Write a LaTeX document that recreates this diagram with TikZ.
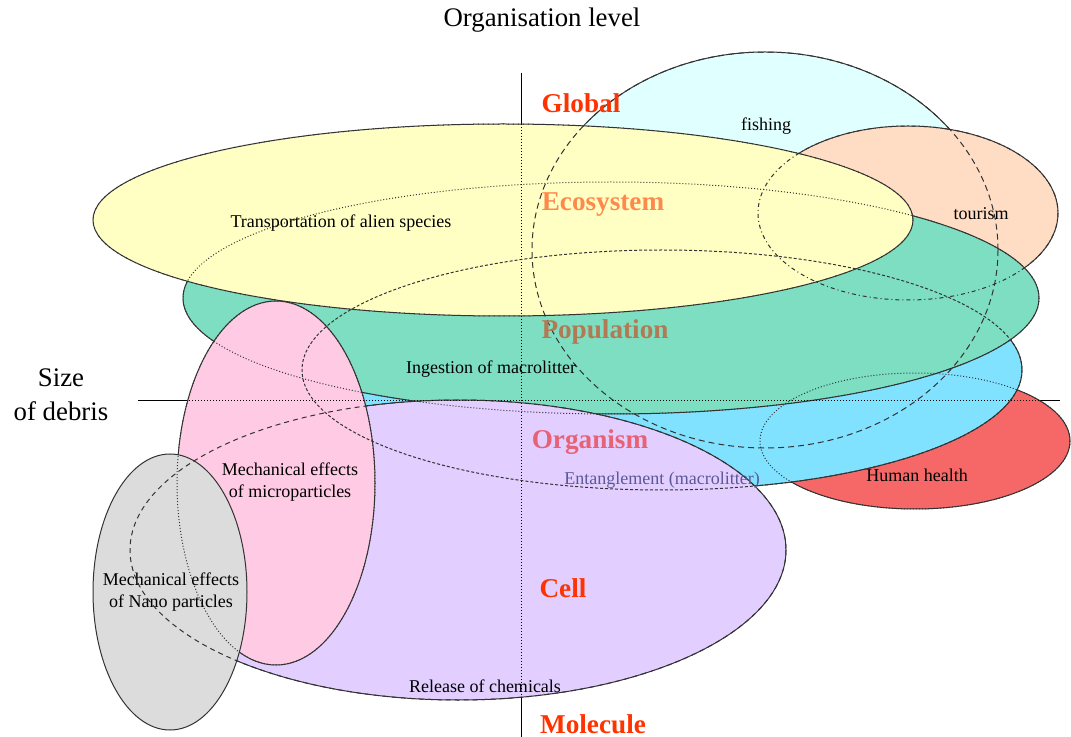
\documentclass[tikz,border=0pt]{standalone}
\usepackage{fontspec}
\setmainfont{Liberation Serif}
\usepackage{tikz}
\usepackage{color}
\definecolor{skyfish}{RGB}{224, 255, 255}
\definecolor{peach}{RGB}{255, 221, 196}
\definecolor{healthred}{RGB}{246, 104, 104}
\definecolor{tanglecyan}{RGB}{128, 226, 255}
\definecolor{seagreen}{RGB}{126, 222, 193}
\definecolor{palelemon}{RGB}{255, 255, 196}
\definecolor{lavender}{RGB}{226, 206, 255}
\definecolor{candypink}{RGB}{255, 202, 228}
\definecolor{ashgray}{RGB}{220, 220, 220}
\definecolor{levelred}{RGB}{255, 51, 0}

\begin{document}
\begin{tikzpicture}[x=0.5pt, y=-0.5pt,
        level/.style={font=\fontsize{13.6}{16}\selectfont\bfseries, text=levelred, inner sep=0pt},
        effect/.style={font=\fontsize{9}{11}\selectfont, align=center, inner sep=0pt},
        axislabel/.style={font=\fontsize{13.4}{17}\selectfont, align=center, inner sep=0pt},
        blob/.style={draw=black!80, line width=0.5pt}]
            \useasboundingbox (0,0) rectangle (1071,737);
            % Axes, solid where no effect covers them
            \draw[line width=0.5pt]                                  (138,401) -- (1060,401);
            \draw[line width=0.5pt]                                  (521, 73) -- ( 521,737);
            % Effects, back to front
            \filldraw[blob, fill=skyfish]                            (765,250) ellipse (233 and 198);
            \filldraw[blob, fill=peach]                              (908,213) ellipse (150 and  87);
            \filldraw[blob, fill=healthred]                          (915,441) ellipse (155 and  68);
            \filldraw[blob, fill=tanglecyan]                         (662,370) ellipse (360 and 120);
            \filldraw[blob, fill=seagreen]                           (611,298) ellipse (428 and 116);
            \filldraw[blob, fill=palelemon]                          (503,220) ellipse (410 and  96);
            \filldraw[blob, fill=lavender]                           (458,550) ellipse (328 and 150);
            \filldraw[blob, fill=candypink]                          (276,483) ellipse ( 99 and 182);
            \filldraw[blob, fill=ashgray]                            (170,592) ellipse ( 77 and 138);
            % Axes again, dotted through the effects
            \draw[densely dotted, line width=0.5pt]                  (138,401) -- (1060,401);
            \draw[densely dotted, line width=0.5pt]                  (521, 73) -- ( 521,737);
            % Hidden outlines
            \draw[black!80, line width=0.5pt, dash pattern=on 3pt off 2pt]                  (765,250) ellipse (233 and 198);
            \draw[black!80, line width=0.5pt, dash pattern=on 2pt off 1.5pt on 0.5pt off 1.5pt] (908,213) ellipse (150 and  87);
            \draw[black!80, line width=0.5pt, densely dotted]                               (915,441) ellipse (155 and  68);
            \draw[black!80, line width=0.5pt, dash pattern=on 1.5pt off 1pt]                (662,370) ellipse (360 and 120);
            \draw[black!80, line width=0.5pt, densely dotted]                               (611,298) ellipse (428 and 116);
            \draw[black!80, line width=0.5pt, dotted]                                       (503,220) ellipse (410 and  96);
            \draw[black!80, line width=0.5pt, dash pattern=on 2.5pt off 2pt]                (458,550) ellipse (328 and 150);
            \draw[black!80, line width=0.5pt, densely dotted]                               (276,483) ellipse ( 99 and 182);
            % Axis labels
            \node[axislabel] (orglevel) at (542, 20) {Organisation level};
            \node[axislabel] (debris)   at ( 61,395) {Size\\of debris};
            % Organisation levels
            \node[level]                 (global)   at (581,103) {Global};
            \node[level, text=levelred!55!orange!70!white] (ecosystem) at (603,205) {Ecosystem};
            \node[level, text={rgb,255:red,178;green,122;blue,84}] (population) at (605,332) {Population};
            \node[level, text={rgb,255:red,232;green,98;blue,118}] (organism)   at (590,442) {Organism};
            \node[level]                 (cell)     at (563,588) {Cell};
            \node[level]                 (molecule) at (593,724) {Molecule};
            % Effects of the debris
            \node[effect] (fishing)   at (766,126) {fishing};
            \node[effect] (tourism)   at (981,214) {tourism};
            \node[effect] (alien)     at (341,223) {Transportation of alien species};
            \node[effect] (ingestion) at (491,369) {Ingestion of macrolitter};
            \node[effect, text={rgb,255:red,92;green,88;blue,150}] (entangle) at (662,480) {Entanglement (macrolitter)};
            \node[effect] (health)    at (917,475) {Human health};
            \node[effect] (micro)     at (290,482) {Mechanical effects\\of microparticles};
            \node[effect] (nano)      at (171,592) {Mechanical effects\\of Nano particles};
            \node[effect] (chemicals) at (485,686) {Release of chemicals};
\end{tikzpicture}
\end{document}
